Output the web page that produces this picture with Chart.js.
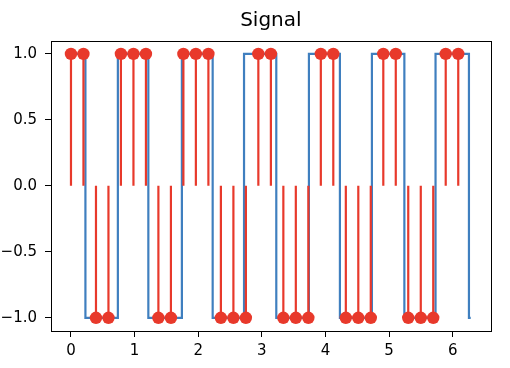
<!DOCTYPE html>
<html>
<head>
<meta charset="utf-8">
<script src="https://cdn.jsdelivr.net/npm/chart.js@4"></script>
<style>
  html, body { margin: 0; padding: 0; background: #fff; }
  #plot { display: block; }
</style>
</head>
<body>
<canvas id="plot" width="510" height="368"></canvas>
<script>
// sampled points (red stems)
const sampleX = [0, 0.196, 0.393, 0.589, 0.785, 0.982, 1.178, 1.374, 1.571, 1.767, 1.963,
  2.160, 2.356, 2.553, 2.749, 2.945, 3.142, 3.338, 3.534, 3.731, 3.927, 4.123, 4.320,
  4.516, 4.712, 4.909, 5.105, 5.301, 5.498, 5.694, 5.890, 6.087];
const sampleY = [1, 1, -1, -1, 1, 1, 1, -1, -1, 1, 1, 1, -1, -1, -1, 1, 1, -1, -1, -1,
  1, 1, -1, -1, -1, 1, 1, -1, -1, -1, 1, 1];

// square wave (blue), value after each edge
const edgeX = [0, 0.227, 0.737, 1.216, 1.743, 2.227, 2.72, 3.227, 3.74, 4.227, 4.73, 5.24, 5.73, 6.255, 6.283];
const edgeY = [1, -1, 1, -1, 1, -1, 1, -1, 1, -1, 1, -1, 1, -1, -1];

const xTicks = [0, 1, 2, 3, 4, 5, 6];
const yTicks = [-1, -0.5, 0, 0.5, 1];
const titleText = 'Signal';

const RED = '#e8392b';
const BLUE = '#3f7fbf';
const FONT = 'DejaVu Sans';

// build stem segments, null between them
function stem_points() {
  let pts = [];
  for (let i = 0; i < sampleX.length; i++) {
    pts.push({x: sampleX[i], y: 0});
    pts.push({x: sampleX[i], y: sampleY[i]});
    pts.push({x: sampleX[i], y: null});
  }
  return pts;
}

// spines on all 4 sides + title centred over the axes
const frame = {
  id: 'frame',
  afterDraw(chart) {
    const a = chart.chartArea;
    const ctx = chart.ctx;
    ctx.save();
    ctx.strokeStyle = '#000';
    ctx.lineWidth = 1;
    ctx.strokeRect(Math.round(a.left) + 0.5, Math.round(a.top) + 0.5,
      Math.round(a.right - a.left), Math.round(a.bottom - a.top));
    ctx.fillStyle = '#000';
    ctx.font = '20px "' + FONT + '"';
    ctx.textAlign = 'center';
    ctx.textBaseline = 'alphabetic';
    ctx.fillText(titleText, (a.left + a.right) / 2, 25.5);
    ctx.restore();
  }
};

function make_chart() {
  const ctx = document.getElementById('plot');
  return new Chart(ctx, {
    type: 'line',
    data: {
      datasets: [
        {
          label: 'markers', type: 'scatter',
          data: sampleX.map((x, i) => ({x: x, y: sampleY[i]})),
          backgroundColor: RED, borderColor: RED, borderWidth: 0,
          pointRadius: 6.2, showLine: false, order: 0
        },
        {
          label: 'stems',
          data: stem_points(),
          borderColor: RED, borderWidth: 2.2, pointRadius: 0,
          spanGaps: false, tension: 0, order: 1
        },
        {
          label: 'signal',
          data: edgeX.map((x, i) => ({x: x, y: edgeY[i]})),
          borderColor: BLUE, borderWidth: 2.2, pointRadius: 0,
          stepped: 'before', order: 2
        }
      ]
    },
    options: {
      responsive: false,
      animation: false,
      devicePixelRatio: 1,
      layout: { padding: { left: 0, right: 19.3, top: 40.7, bottom: 0 } },
      plugins: {
        legend: { display: false },
        tooltip: { enabled: false },
        title: { display: false }
      },
      scales: {
        x: {
          type: 'linear', min: -0.314, max: 6.597,
          afterBuildTicks: (s) => { s.ticks = xTicks.map(v => ({value: v})); },
          afterFit: (s) => { s.height = 37; },
          border: { display: false },
          grid: { drawOnChartArea: false, drawTicks: true, tickLength: 6, color: '#000' },
          ticks: { color: '#000', padding: 5, maxRotation: 0,
            font: { family: FONT, size: 15 },
            callback: (v) => String(v) }
        },
        y: {
          type: 'linear', min: -1.1, max: 1.1,
          afterBuildTicks: (s) => { s.ticks = yTicks.map(v => ({value: v})); },
          afterFit: (s) => { s.width = 51; },
          border: { display: false },
          grid: { drawOnChartArea: false, drawTicks: true, tickLength: 6, color: '#000' },
          ticks: { color: '#000', padding: 8,
            font: { family: FONT, size: 15 },
            callback: (v) => v.toFixed(1).replace('-', '\u2212') }
        }
      }
    },
    plugins: [frame]
  });
}

document.addEventListener('DOMContentLoaded', () => make_chart());
</script>
</body>
</html>
